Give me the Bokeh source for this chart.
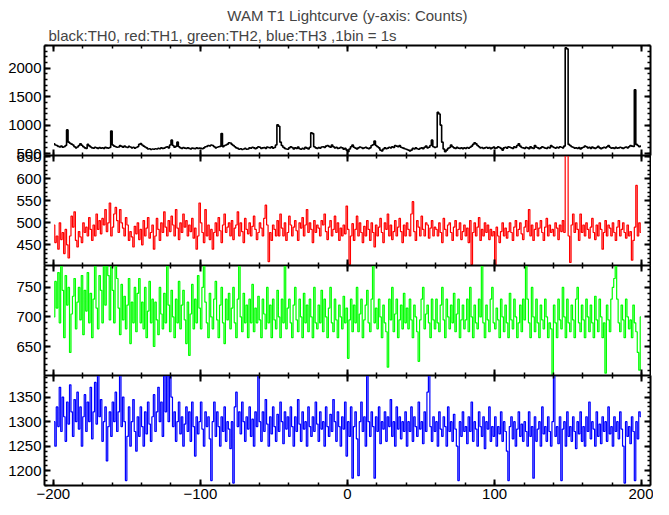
from bokeh.plotting import figure
from bokeh.layouts import column
from bokeh.models import (LinearAxis, SingleIntervalTicker, Range1d, Title,
                          CustomLabelingPolicy)
from bokeh.embed import file_html
from bokeh.resources import INLINE

# ---------------- data (1 s bins, t = -200 .. 199 s) ----------------
t_start = -200
title_main = "WAM T1 Lightcurve (y-axis: Counts)"
title_sub = "black:TH0, red:TH1, green:TH2, blue:TH3 ,1bin = 1s"
x_ticks_major = 100

th0 = [
    670, 650, 640, 625, 615, 630, 610, 620, 640, 915, 700, 680, 665, 650, 620, 600, 615, 640, 670, 645,
    620, 600, 590, 660, 635, 615, 600, 595, 610, 600, 590, 605, 595, 600, 590, 610, 600, 595, 605, 895,
    650, 630, 620, 610, 615, 640, 625, 610, 630, 615, 605, 625, 615, 600, 610, 595, 605, 620, 660, 675,
    650, 630, 615, 600, 580, 585, 570, 580, 575, 585, 580, 590, 585, 600, 590, 595, 610, 620, 600, 650,
    735, 640, 610, 625, 700, 620, 600, 590, 605, 595, 590, 600, 590, 580, 595, 590, 585, 600, 590, 595,
    590, 585, 600, 620, 625, 640, 635, 650, 640, 620, 600, 610, 620, 625, 850, 620, 640, 650, 665, 690,
    685, 660, 640, 620, 600, 590, 575, 585, 570, 580, 590, 575, 580, 600, 595, 610, 600, 585, 600, 620,
    610, 590, 600, 605, 590, 615, 605, 600, 620, 595, 605, 650, 1005, 980, 700, 640, 610, 590, 580, 575,
    600, 620, 605, 580, 600, 590, 615, 585, 575, 590, 580, 610, 595, 580, 610, 865, 850, 620, 600, 590,
    605, 595, 615, 620, 605, 630, 640, 625, 610, 650, 620, 600, 610, 590, 595, 610, 600, 575, 590, 560,
    530, 580, 620, 650, 610, 595, 580, 600, 615, 605, 590, 600, 610, 595, 585, 600, 640, 655, 720, 640,
    620, 600, 560, 545, 580, 600, 585, 595, 610, 600, 620, 605, 640, 630, 620, 640, 610, 600, 590, 580,
    570, 560, 545, 560, 590, 580, 600, 585, 575, 590, 600, 585, 610, 630, 600, 610, 640, 735, 620, 605,
    615, 1225, 1195, 1000, 700, 580, 530, 560, 590, 605, 650, 620, 600, 590, 610, 595, 590, 600, 585, 600,
    590, 605, 595, 610, 630, 660, 690, 670, 640, 620, 600, 605, 590, 600, 610, 595, 605, 585, 600, 615,
    590, 600, 620, 605, 590, 560, 600, 610, 595, 620, 610, 600, 590, 620, 605, 640, 670, 630, 605, 600,
    590, 610, 600, 585, 620, 600, 590, 640, 610, 600, 585, 600, 620, 605, 595, 590, 610, 600, 640, 620,
    605, 595, 610, 600, 620, 610, 600, 630, 2360, 2340, 660, 640, 620, 610, 595, 600, 590, 605, 580, 600,
    610, 630, 620, 600, 610, 590, 615, 600, 590, 605, 625, 600, 585, 600, 610, 600, 620, 640, 610, 595,
    600, 590, 610, 595, 600, 610, 600, 590, 605, 615, 600, 620, 640, 630, 625, 1620, 660, 640, 620, 630,
]

th1 = [
    495, 455, 470, 440, 500, 462, 478, 430, 485, 450, 420, 470, 515, 490, 525, 460, 445, 480, 468, 455,
    500, 478, 490, 470, 512, 485, 460, 495, 470, 520, 485, 505, 475, 510, 495, 530, 480, 500, 545, 470,
    490, 520, 535, 505, 478, 530, 500, 488, 470, 512, 495, 460, 480, 468, 445, 492, 475, 500, 462, 485,
    450, 505, 470, 488, 512, 465, 478, 495, 440, 470, 510, 485, 460, 500, 478, 525, 490, 470, 505, 480,
    515, 495, 470, 530, 488, 462, 500, 478, 520, 490, 505, 470, 495, 480, 510, 465, 488, 440, 470, 545,
    500, 478, 455, 530, 470, 495, 462, 485, 440, 478, 500, 470, 512, 482, 455, 495, 520, 478, 490, 500,
    470, 505, 462, 488, 495, 525, 470, 500, 480, 455, 510, 485, 475, 500, 470, 492, 515, 485, 462, 478,
    500, 488, 470, 510, 540, 495, 412, 478, 460, 495, 485, 470, 505, 470, 520, 488, 470, 500, 460, 478,
    515, 495, 470, 490, 505, 482, 460, 500, 488, 512, 470, 495, 530, 478, 500, 485, 455, 505, 478, 495,
    488, 470, 505, 495, 520, 480, 462, 490, 505, 470, 485, 515, 478, 500, 460, 488, 470, 495, 475, 538,
    485, 405, 470, 498, 460, 485, 515, 470, 500, 478, 455, 492, 470, 505, 485, 460, 500, 478, 445, 495,
    470, 490, 510, 478, 455, 500, 485, 520, 470, 495, 462, 480, 505, 470, 490, 510, 480, 455, 495, 470,
    500, 485, 470, 520, 548, 480, 460, 505, 490, 470, 515, 485, 470, 500, 495, 465, 488, 505, 470, 490,
    485, 470, 500, 478, 455, 510, 485, 470, 495, 500, 478, 460, 490, 505, 470, 485, 500, 462, 480, 495,
    470, 488, 455, 505, 405, 478, 500, 470, 490, 512, 460, 485, 470, 500, 478, 495, 462, 485, 470, 480,
    402, 490, 470, 455, 480, 500, 470, 488, 465, 480, 500, 478, 460, 490, 505, 470, 485, 500, 475, 462,
    490, 505, 480, 530, 470, 495, 460, 485, 500, 470, 488, 505, 478, 460, 490, 510, 470, 495, 478, 485,
    470, 500, 488, 462, 495, 480, 505, 478, 700, 690, 470, 410, 495, 520, 478, 500, 485, 460, 520, 478,
    495, 470, 500, 485, 465, 490, 510, 478, 462, 495, 470, 500, 485, 440, 478, 505, 470, 495, 488, 470,
    500, 478, 460, 490, 505, 470, 485, 500, 478, 465, 495, 470, 480, 415, 460, 490, 585, 470, 500, 478,
]

th2 = [
    700, 760, 715, 775, 690, 788, 745, 665, 770, 720, 750, 640, 705, 735, 765, 680, 725, 750, 695, 770,
    670, 745, 710, 775, 690, 740, 665, 730, 788, 715, 680, 770, 745, 690, 788, 720, 788, 770, 695, 788,
    745, 690, 788, 765, 715, 670, 755, 695, 735, 680, 720, 765, 655, 725, 690, 750, 675, 740, 765, 690,
    725, 680, 750, 665, 710, 760, 690, 730, 650, 725, 695, 670, 750, 705, 680, 740, 690, 788, 720, 675,
    745, 700, 665, 730, 690, 760, 680, 720, 745, 695, 655, 725, 635, 705, 755, 680, 730, 690, 770, 715,
    680, 750, 788, 725, 690, 665, 740, 700, 680, 730, 760, 695, 665, 720, 750, 690, 655, 730, 695, 740,
    680, 715, 750, 690, 665, 730, 788, 700, 675, 740, 690, 720, 665, 730, 690, 755, 675, 715, 690, 735,
    695, 665, 730, 705, 680, 750, 690, 720, 665, 730, 695, 680, 745, 700, 665, 730, 690, 788, 680, 715,
    730, 690, 665, 720, 750, 695, 675, 730, 700, 665, 740, 690, 720, 675, 730, 700, 665, 750, 690, 680,
    720, 690, 745, 675, 730, 700, 665, 715, 750, 690, 675, 730, 695, 665, 720, 700, 680, 735, 690, 715,
    630, 695, 730, 675, 720, 690, 750, 675, 705, 730, 665, 695, 720, 745, 690, 675, 730, 788, 690, 715,
    680, 730, 700, 665, 720, 690, 675, 615, 730, 695, 750, 675, 705, 730, 665, 695, 720, 680, 740, 690,
    715, 680, 730, 695, 665, 720, 700, 675, 625, 695, 730, 750, 680, 705, 720, 690, 665, 730, 695, 680,
    730, 690, 675, 720, 750, 695, 665, 730, 700, 680, 720, 690, 740, 675, 705, 730, 665, 695, 720, 680,
    695, 730, 675, 750, 700, 665, 720, 690, 680, 730, 700, 788, 690, 665, 720, 695, 675, 730, 750, 690,
    680, 715, 695, 665, 730, 700, 675, 720, 690, 665, 740, 695, 680, 730, 700, 665, 690, 720, 675, 730,
    695, 788, 730, 690, 665, 750, 700, 675, 730, 690, 665, 720, 695, 680, 730, 700, 665, 690, 680, 600,
    720, 690, 665, 730, 695, 680, 750, 700, 665, 730, 690, 675, 720, 695, 665, 730, 750, 690, 675, 720,
    695, 665, 730, 700, 675, 720, 690, 665, 735, 695, 675, 730, 700, 665, 690, 605, 720, 695, 675, 730,
    750, 765, 788, 730, 690, 675, 720, 695, 665, 730, 700, 680, 695, 665, 720, 690, 675, 640, 610, 700,
]

th3 = [
    1300, 1250, 1330, 1290, 1370, 1280, 1350, 1310, 1260, 1340, 1295, 1375, 1320, 1270, 1345, 1300, 1360, 1285, 1330, 1250,
    1310, 1355, 1280, 1340, 1300, 1370, 1265, 1320, 1380, 1295, 1394, 1310, 1345, 1260, 1300, 1330, 1220, 1290, 1320, 1270,
    1340, 1300, 1360, 1280, 1320, 1394, 1290, 1350, 1300, 1180, 1270, 1330, 1250, 1300, 1345, 1280, 1240, 1310, 1270, 1330,
    1290, 1250, 1320, 1275, 1340, 1295, 1260, 1310, 1355, 1280, 1320, 1370, 1300, 1340, 1270, 1394, 1320, 1394, 1300, 1394,
    1350, 1290, 1320, 1260, 1300, 1340, 1275, 1310, 1250, 1295, 1330, 1280, 1320, 1260, 1340, 1290, 1230, 1310, 1275, 1300,
    1340, 1285, 1250, 1320, 1290, 1310, 1265, 1180, 1300, 1340, 1270, 1320, 1290, 1250, 1310, 1280, 1330, 1260, 1300, 1285,
    1245, 1300, 1175, 1330, 1360, 1290, 1320, 1275, 1340, 1300, 1260, 1310, 1285, 1330, 1270, 1305, 1250, 1320, 1290, 1394,
    1300, 1260, 1320, 1280, 1345, 1295, 1250, 1310, 1275, 1330, 1290, 1260, 1315, 1280, 1340, 1300, 1255, 1320, 1285, 1310,
    1270, 1330, 1290, 1250, 1310, 1280, 1345, 1295, 1260, 1320, 1285, 1300, 1250, 1330, 1290, 1270, 1310, 1280, 1340, 1295,
    1260, 1320, 1285, 1300, 1250, 1330, 1290, 1270, 1315, 1280, 1345, 1300, 1260, 1320, 1290, 1250, 1310, 1285, 1340, 1230,
    1300, 1270, 1330, 1185, 1290, 1320, 1265, 1190, 1300, 1340, 1280, 1310, 1250, 1394, 1300, 1270, 1320, 1290, 1185, 1310,
    1280, 1330, 1255, 1300, 1285, 1320, 1260, 1310, 1290, 1345, 1270, 1300, 1250, 1330, 1285, 1310, 1265, 1300, 1280, 1320,
    1250, 1300, 1280, 1330, 1260, 1310, 1290, 1270, 1340, 1285, 1300, 1255, 1320, 1280, 1360, 1394, 1290, 1260, 1310, 1280,
    1300, 1250, 1320, 1285, 1270, 1310, 1290, 1250, 1330, 1280, 1300, 1260, 1315, 1285, 1250, 1180, 1300, 1270, 1320, 1280,
    1290, 1255, 1310, 1280, 1340, 1260, 1300, 1285, 1250, 1320, 1290, 1270, 1310, 1245, 1300, 1285, 1330, 1260, 1290, 1270,
    1310, 1250, 1290, 1275, 1320, 1260, 1300, 1280, 1240, 1180, 1290, 1310, 1265, 1300, 1250, 1285, 1320, 1270, 1295, 1260,
    1300, 1280, 1250, 1320, 1270, 1290, 1185, 1310, 1260, 1285, 1300, 1250, 1330, 1275, 1290, 1260, 1310, 1280, 1250, 1300,
    1394, 1270, 1290, 1255, 1310, 1180, 1285, 1300, 1250, 1320, 1270, 1290, 1260, 1310, 1280, 1245, 1300, 1275, 1320, 1260,
    1290, 1250, 1310, 1280, 1340, 1265, 1300, 1285, 1250, 1320, 1270, 1295, 1255, 1310, 1280, 1300, 1260, 1330, 1275, 1290,
    1250, 1310, 1280, 1300, 1265, 1320, 1285, 1250, 1175, 1300, 1270, 1290, 1255, 1310, 1280, 1180, 1300, 1265, 1320, 1310,
]

series = [th0, th1, th2, th3]
colors = ["black", "#ff0000", "#00ff00", "#0000ff"]
widths = [1.6, 1.2, 1.2, 1.2]
y_ranges = [(465, 2400), (403, 653), (601, 787), (1170, 1394)]
y_intervals = [500, 50, 50, 50]

FONT = "Liberation Sans"
FRAME_W, FRAME_H = 606, 110
PAD = 9  # transparent overlap band so edge tick labels are not clipped
SHIFT_X = 5

HIDE_JS = """
try {
  for (const i of Array.from(indices)) { indices.unset(i) }
} catch (e) {}
return indices
"""


def axis(ticker, labels, line_w):
    ax = LinearAxis(ticker=ticker)
    ax.major_tick_in = 6
    ax.major_tick_out = 0
    ax.minor_tick_in = 3
    ax.minor_tick_out = 0
    ax.major_tick_line_width = 2
    ax.minor_tick_line_width = 1.5
    ax.major_tick_line_color = "black"
    ax.minor_tick_line_color = "black"
    if line_w:
        ax.axis_line_width = line_w
        ax.axis_line_color = "black"
    else:
        ax.axis_line_color = None
    if labels:
        ax.major_label_text_font = FONT
        ax.major_label_text_font_size = "15px"
        ax.major_label_text_color = "black"
        ax.major_label_standoff = 3
    else:
        ax.major_label_policy = CustomLabelingPolicy(code=HIDE_JS)
        ax.major_label_text_font_size = "0px"
        ax.major_label_standoff = 0
    return ax


figs = []
for k in range(4):
    vals = series[k]
    xs = [t_start + 0.5 + i for i in range(len(vals))]
    p = figure(output_backend="svg", toolbar_location=None,
               frame_width=FRAME_W, frame_height=FRAME_H,
               x_range=Range1d(-206, 206), y_range=Range1d(*y_ranges[k]),
               x_axis_location=None, y_axis_location=None,
               min_border_left=37, min_border_right=3,
               min_border_top=(0 if k == 0 else PAD),
               min_border_bottom=(0 if k == 3 else PAD))
    p.outline_line_color = None
    p.grid.visible = False
    p.background_fill_color = None
    p.border_fill_color = None
    p.margin = (4 if k == 0 else -2 * PAD, 0, 0, SHIFT_X)
    p.step(xs, vals, mode="center", line_color=colors[k], line_width=widths[k])

    yt = lambda: SingleIntervalTicker(interval=y_intervals[k], num_minor_ticks=5)
    xt = lambda: SingleIntervalTicker(interval=x_ticks_major, num_minor_ticks=5)
    p.add_layout(axis(yt(), True, 2), "left")
    p.add_layout(axis(yt(), False, 2), "right")
    p.add_layout(axis(xt(), k == 3, 2), "below")
    p.add_layout(axis(xt(), False, 2 if k == 0 else 1), "above")
    if k == 0:
        p.add_layout(Title(text=title_sub, align="left", text_font=FONT,
                           text_font_size="15px", text_font_style="normal",
                           standoff=3, offset=4), "above")
        p.add_layout(Title(text=title_main, align="center", text_font=FONT,
                           text_font_size="15px", text_font_style="normal",
                           standoff=0), "above")
    figs.append(p)

layout = column(*figs, spacing=0)
open("out.html", "w").write(file_html(layout, INLINE))
